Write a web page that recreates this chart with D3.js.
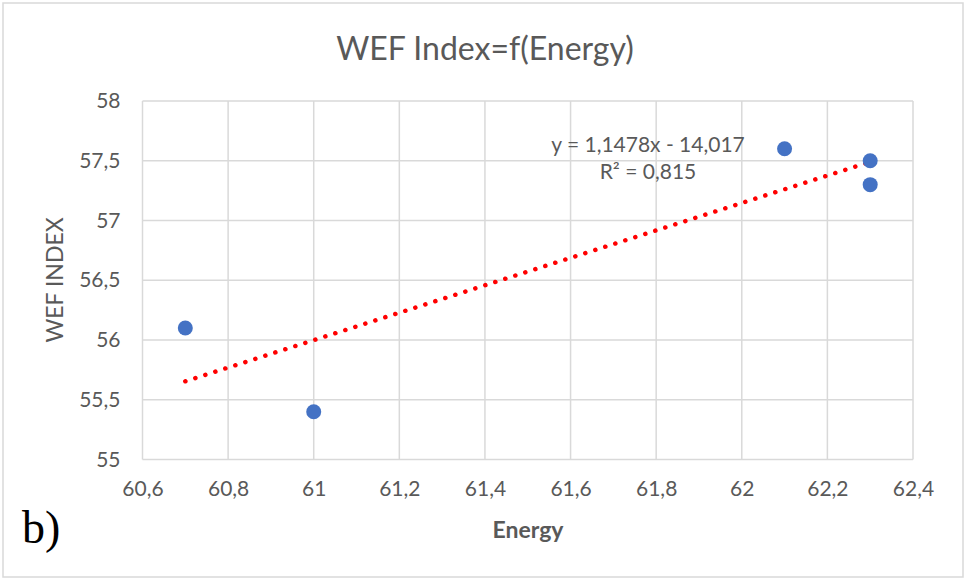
<!DOCTYPE html>
<html lang="en">
<head>
<meta charset="UTF-8">
<title>WEF Index=f(Energy)</title>
<script src="https://cdn.jsdelivr.net/npm/d3@7"></script>
<style>
  html, body { margin: 0; padding: 0; background: #fff; }
  text { font-family: Lato, "Open Sans", sans-serif; fill: #595959; }
  .grid line { stroke: #d9d9d9; stroke-width: 1.5; }
</style>
</head>
<body>
<svg id="chart"></svg>
<script>
// data
const energy = [60.7, 61, 62.1, 62.3, 62.3]
const wefIndex = [56.1, 55.4, 57.6, 57.5, 57.3]
const xTicks = [60.6, 60.8, 61, 61.2, 61.4, 61.6, 61.8, 62, 62.2, 62.4]
const yTicks = [55, 55.5, 56, 56.5, 57, 57.5, 58]
const slope = 1.1478, intercept = -14.017
const eqLines = ['y = 1,1478x - 14,017', 'R² = 0,815']

const W = 967, H = 579
const plot = { left: 142.5, top: 101, right: 913, bottom: 459.5 }

const svg = d3.select('#chart').attr('width', W).attr('height', H)

// outer frame
svg.append('rect')
  .attr('x', 3).attr('y', 3).attr('width', 960).attr('height', 574)
  .attr('fill', '#fff').attr('stroke', '#d9d9d9').attr('stroke-width', 1.5)

const x = d3.scaleLinear().domain([60.6, 62.4]).range([plot.left, plot.right])
const y = d3.scaleLinear().domain([55, 58]).range([plot.bottom, plot.top])

const fmt = v => String(+v.toFixed(1)).replace('.', ',')

// gridlines
const grid = svg.append('g').attr('class', 'grid')
grid.selectAll('.vx').data(xTicks).enter().append('line')
  .attr('x1', d => x(d)).attr('x2', d => x(d))
  .attr('y1', plot.top).attr('y2', plot.bottom)
grid.selectAll('.hy').data(yTicks).enter().append('line')
  .attr('x1', plot.left).attr('x2', plot.right)
  .attr('y1', d => y(d)).attr('y2', d => y(d))

// axes (labels only)
const xAxis = svg.append('g')
  .attr('transform', `translate(0, ${plot.bottom})`)
  .call(d3.axisBottom(x).tickValues(xTicks).tickFormat(fmt).tickSize(0).tickPadding(22))
xAxis.select('.domain').remove()
xAxis.selectAll('text').style('font-size', '21px').style('fill', '#595959')
  .style('font-family', 'Lato, sans-serif')

const yAxis = svg.append('g')
  .attr('transform', `translate(${plot.left}, 0)`)
  .call(d3.axisLeft(y).tickValues(yTicks).tickFormat(fmt).tickSize(0).tickPadding(22))
yAxis.select('.domain').remove()
yAxis.selectAll('text').style('font-size', '21px').style('fill', '#595959')
  .style('font-family', 'Lato, sans-serif')

// title
svg.append('text')
  .attr('x', 485).attr('y', 60)
  .attr('text-anchor', 'middle')
  .style('font-size', '32px')
  .text('WEF Index=f(Energy)')

// axis titles
svg.append('text')
  .attr('x', 528).attr('y', 538)
  .attr('text-anchor', 'middle')
  .style('font-size', '23px').style('font-weight', 'bold')
  .text('Energy')

svg.append('text')
  .attr('transform', 'translate(63, 280) rotate(-90)')
  .attr('text-anchor', 'middle')
  .style('font-size', '23px')
  .text('WEF INDEX')

// trendline
const xr = d3.extent(energy)
svg.append('line')
  .attr('x1', x(xr[0])).attr('y1', y(slope * xr[0] + intercept))
  .attr('x2', x(xr[1])).attr('y2', y(slope * xr[1] + intercept))
  .attr('stroke', '#ff0000').attr('stroke-width', 4.5)
  .attr('stroke-linecap', 'round').attr('stroke-dasharray', '0.1 10.4')

// points
svg.selectAll('circle.pt').data(energy).enter().append('circle')
  .attr('class', 'pt')
  .attr('cx', d => x(d))
  .attr('cy', (d, i) => y(wefIndex[i]))
  .attr('r', 7.5)
  .attr('fill', '#4472c4')

// equation
svg.selectAll('text.eq').data(eqLines).enter().append('text')
  .attr('class', 'eq')
  .attr('x', 648)
  .attr('y', (d, i) => 152 + i * 27)
  .attr('text-anchor', 'middle')
  .style('font-size', '21px')
  .text(d => d)

// panel label
svg.append('text')
  .attr('x', 22).attr('y', 543)
  .style('font-family', '"Liberation Serif", "DejaVu Serif", serif')
  .style('font-size', '46px').style('fill', '#000')
  .text('b)')
</script>
</body>
</html>
